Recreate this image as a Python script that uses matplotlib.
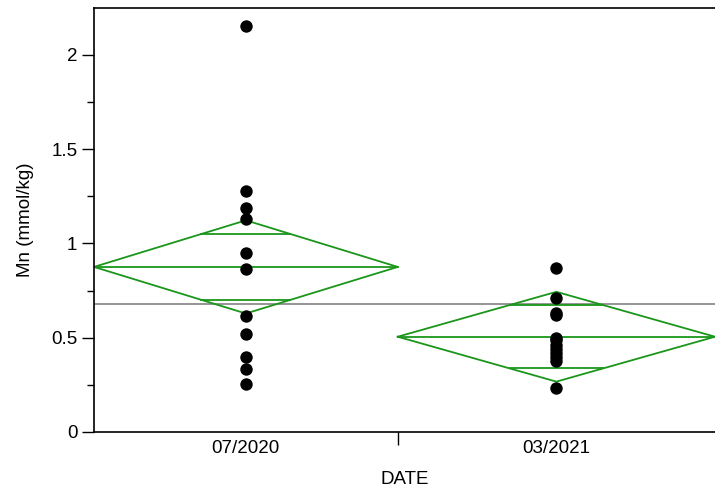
import numpy as np
import matplotlib
matplotlib.use('Agg')
import matplotlib.pyplot as plt

plt.rcParams['font.family'] = ['Liberation Sans', 'DejaVu Sans']

# values
dates = ['07/2020', '03/2021']
mn_0720 = [2.150, 1.278, 1.188, 1.129, 0.948, 0.866, 0.615, 0.519, 0.396, 0.333, 0.254]
mn_0321 = [0.870, 0.711, 0.630, 0.620, 0.500, 0.490, 0.460, 0.440, 0.420, 0.400, 0.375, 0.233]
group_means = [0.875, 0.505]
ci_half = [0.247, 0.238]
grand_mean = 0.679

groups = [mn_0720, mn_0321]
green = '#1a961a'
fs = 13.5

fig = plt.figure(figsize=(7.15, 4.91), dpi=100)
ax = fig.add_axes([94 / 715, 1 - 432 / 491, 621 / 715, 424.5 / 491])

# group widths grow with sample size
widths = np.sqrt([len(g) for g in groups])
edges = np.concatenate([[0], np.cumsum(widths)])
centers = (edges[:-1] + edges[1:]) / 2

ax.axhline(grand_mean, color='#8c8c8c', lw=1.3, zorder=1)

for i, g in enumerate(groups):
    left, right, c = edges[i], edges[i + 1], centers[i]
    m, h = group_means[i], ci_half[i]
    ax.plot([left, c, right, c, left], [m, m + h, m, m - h, m],
            color=green, lw=1.3, zorder=2)
    ax.plot([left, right], [m, m], color=green, lw=1.3, zorder=2)
    d = h / np.sqrt(2)
    hw = (1 - d / h) * (right - left) / 2
    for y in (m + d, m - d):
        ax.plot([c - hw, c + hw], [y, y], color=green, lw=1.3, zorder=2)
    ax.scatter(np.full(len(g), c), g, s=80, color='black', zorder=3,
               linewidths=0)

ax.set_xlim(edges[0], edges[-1])
ax.set_ylim(0, 2.25)

ax.set_yticks([0, 0.5, 1, 1.5, 2])
ax.set_yticklabels(['0', '0.5', '1', '1.5', '2'])
ax.set_yticks(np.arange(0.25, 2.25, 0.5), minor=True)
ax.tick_params(axis='y', which='major', length=9, width=1, labelsize=fs, pad=3)
ax.tick_params(axis='y', which='minor', length=5, width=1)

ax.set_xticks(edges[1:-1])
ax.set_xticklabels([])
ax.set_xticks(centers, minor=True)
ax.set_xticklabels(dates, minor=True)
ax.tick_params(axis='x', which='major', length=9, width=1)
ax.tick_params(axis='x', which='minor', length=0, labelsize=fs, pad=6)

for s in ax.spines.values():
    s.set_linewidth(1.2)
ax.spines['right'].set_visible(False)

ax.set_ylabel('Mn (mmol/kg)', fontsize=fs, labelpad=12)
ax.set_xlabel('DATE', fontsize=fs, labelpad=10)

fig.savefig('out.png', dpi=100)
